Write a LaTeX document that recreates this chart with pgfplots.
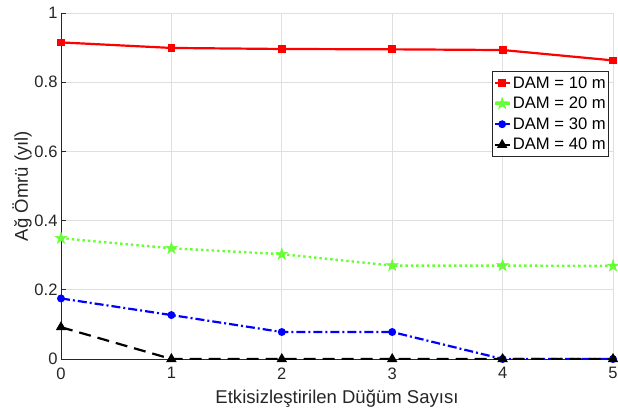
\documentclass[border=0pt]{standalone}
\usepackage{pgfplots}
\pgfplotsset{compat=1.18}
\usepackage{fontspec}
\setmainfont{Liberation Sans}
\definecolor{axgray}{RGB}{38,38,38}
\definecolor{gridgray}{RGB}{223,223,223}
\definecolor{mygreen}{RGB}{102,255,51}
\pgfdeclareplotmark{pentagram}{%
  \pgfpathmoveto{\pgfpointpolar{90}{\pgfplotmarksize}}%
  \pgfpathlineto{\pgfpointpolar{126}{0.382\pgfplotmarksize}}%
  \pgfpathlineto{\pgfpointpolar{162}{\pgfplotmarksize}}%
  \pgfpathlineto{\pgfpointpolar{198}{0.382\pgfplotmarksize}}%
  \pgfpathlineto{\pgfpointpolar{234}{\pgfplotmarksize}}%
  \pgfpathlineto{\pgfpointpolar{270}{0.382\pgfplotmarksize}}%
  \pgfpathlineto{\pgfpointpolar{306}{\pgfplotmarksize}}%
  \pgfpathlineto{\pgfpointpolar{342}{0.382\pgfplotmarksize}}%
  \pgfpathlineto{\pgfpointpolar{18}{\pgfplotmarksize}}%
  \pgfpathlineto{\pgfpointpolar{54}{0.382\pgfplotmarksize}}%
  \pgfpathclose\pgfusepathqfillstroke}
\begin{document}
\begin{tikzpicture}[x=1bp,y=1bp]
\begin{axis}[
  at={(0,0)}, anchor=south west,
  scale only axis, width=552bp, height=346bp,
  xmin=0, xmax=5, ymin=0, ymax=1,
  xtick={0,1,2,3,4,5}, ytick={0,0.2,0.4,0.6,0.8,1},
  axis x line*=bottom, axis y line*=left,
  axis line style={axgray, line width=0.7bp},
  tick align=inside, tick style={axgray, line width=0.7bp}, major tick length=5bp,
  grid=major, grid style={gridgray, line width=0.7bp},
  /pgf/number format/assume math mode=true,
  tick label style={font=\fontsize{16.6}{19}\selectfont, text=axgray},
  xticklabel style={yshift=-5bp},
  label style={font=\fontsize{18.6}{21}\selectfont, text=axgray},
  xlabel={Etkisizleştirilen Düğüm Sayısı},
  ylabel={Ağ Ömrü (yıl)},
  xlabel style={at={(axis description cs:0.5,-0.130)}, anchor=base},
  ylabel style={at={(axis description cs:-0.0707,0.5)}, anchor=center},
  legend style={at={(rel axis cs:0.993,0.832)}, anchor=north east,
    font=\fontsize{16.7}{19}\selectfont, draw=axgray, line width=0.7bp,
    inner xsep=1bp, inner ysep=3bp, row sep=3.5bp, fill=white},
  legend cell align=left,
  legend image code/.code={\draw[#1, solid] (0bp,0bp) -- (15bp,0bp); \draw[#1, solid] plot coordinates {(7.5bp,0bp)};},
]
\addplot[red, line width=2.2bp, mark=square*, mark size=2.8bp, mark options={solid}]
 coordinates {(0,0.915) (1,0.899) (2,0.896) (3,0.895) (4,0.893) (5,0.863)};
\addlegendentry{DAM = 10 m}
\addplot[mygreen, line width=2.4bp, dash pattern=on 2.4bp off 3bp, mark=pentagram, mark size=6bp, mark options={solid, fill=mygreen, line width=0.6bp}]
 coordinates {(0,0.349) (1,0.320) (2,0.303) (3,0.270) (4,0.270) (5,0.269)};
\addlegendentry{DAM = 20 m}
\addplot[blue, line width=2.2bp, dash pattern=on 9bp off 3bp on 2bp off 3bp, mark=*, mark size=2.8bp, mark options={solid}]
 coordinates {(0,0.175) (1,0.127) (2,0.078) (3,0.078) (4,0) (5,0)};
\addlegendentry{DAM = 30 m}
\addplot[black, line width=2.2bp, dash pattern=on 12bp off 7bp, mark=triangle*, mark size=3.8bp, mark options={solid}]
 coordinates {(0,0.092) (1,0) (2,0) (3,0) (4,0) (5,0)};
\addlegendentry{DAM = 40 m}
\end{axis}
\pgfresetboundingbox
\path[use as bounding box] (-61bp,-53bp) rectangle (557bp,359bp);
\end{tikzpicture}
\end{document}
